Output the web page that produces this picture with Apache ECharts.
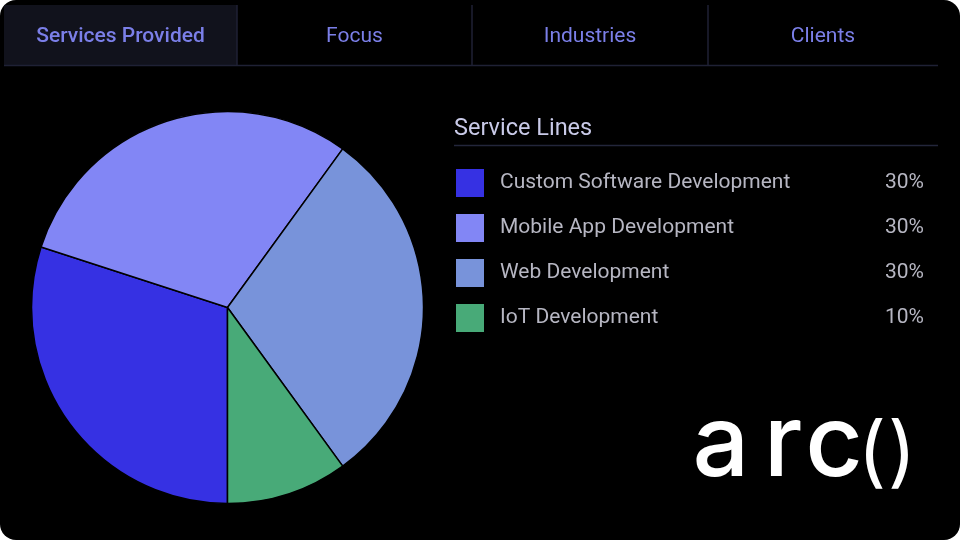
<!DOCTYPE html>
<html>
<head>
<meta charset="utf-8">
<script src="https://cdn.jsdelivr.net/npm/echarts@6/dist/echarts.min.js"></script>
<style>
	html, body { margin: 0; padding: 0; background: #fff; }
	#main { width: 960px; height: 540px; background: #000; border-radius: 16px; overflow: hidden; }
</style>
</head>
<body>
<div id="main"></div>
<script>
// 服务类别
var tabNames = ['Services Provided', 'Focus', 'Industries', 'Clients'];
var serviceNames = ['Custom Software Development', 'Mobile App Development', 'Web Development', 'IoT Development'];
var serviceValues = [30, 30, 30, 10];
var serviceColors = ['#3631e3', '#8286f5', '#7893da', '#48aa78'];

var tabEdges = [4, 237, 472, 708, 938];

var graphics = [];
graphics.push({
	type: 'rect',
	shape: { x: 4, y: 5, width: tabEdges[1] - 4, height: 60 },
	style: { fill: '#11121c' }
});
for (var i = 1; i < 4; i++) {
	graphics.push({
		type: 'line',
		shape: { x1: tabEdges[i], y1: 5, x2: tabEdges[i], y2: 65 },
		style: { stroke: '#1f2135', lineWidth: 1.5 }
	});
}
graphics.push({
	type: 'line',
	shape: { x1: 4, y1: 65.5, x2: 938, y2: 65.5 },
	style: { stroke: '#1f2135', lineWidth: 1.5 }
});
for (var j = 0; j < tabNames.length; j++) {
	graphics.push({
		type: 'text',
		x: (tabEdges[j] + tabEdges[j + 1]) / 2,
		y: 37,
		style: {
			text: tabNames[j],
			fill: '#7b7fe8',
			font: (j === 0 ? '500 ' : '400 ') + '21px Roboto',
			textAlign: 'center',
			textVerticalAlign: 'middle'
		}
	});
}
//标题下划线
graphics.push({
	type: 'line',
	shape: { x1: 454, y1: 145.5, x2: 938, y2: 145.5 },
	style: { stroke: '#23263b', lineWidth: 1.5 }
});
graphics.push({
	type: 'text',
	x: 454,
	y: 129,
	style: {
		text: 'Service Lines',
		fill: '#c9cae8',
		font: '400 23.5px Roboto',
		textVerticalAlign: 'middle'
	}
});
// logo  arc()
var logoChars = [
	{ t: 'a', x: 721, y: 446, f: '500 100px Inter' },
	{ t: 'r', x: 783, y: 446, f: '500 100px Inter' },
	{ t: 'c', x: 834, y: 446, f: '500 100px Inter' },
	{ t: '(', x: 872, y: 455, f: '400 78px Inter' },
	{ t: ')', x: 902, y: 455, f: '400 78px Inter' }
];
logoChars.forEach(function (c) {
	graphics.push({
		type: 'text',
		x: c.x,
		y: c.y,
		style: {
			text: c.t,
			fill: '#ffffff',
			font: c.f,
			textAlign: 'center',
			textVerticalAlign: 'middle'
		}
	});
});

var pieData = serviceNames.map(function (n, k) {
	return { name: n, value: serviceValues[k], itemStyle: { color: serviceColors[k] } };
});

var option = {
	backgroundColor: 'transparent',
	animation: false,
	graphic: graphics,
	legend: {
		orient: 'vertical',
		left: 454,
		top: 167,
		padding: 0,
		itemWidth: 30,
		itemHeight: 30,
		itemGap: 13,
		icon: 'rect',
		data: serviceNames,
		formatter: function (name) {
			var idx = serviceNames.indexOf(name);
			return '{g|}{n|' + name + '}{p|' + serviceValues[idx] + '%}';
		},
		textStyle: {
			color: '#b6b6c2',
			fontFamily: 'Roboto',
			fontSize: 21,
			rich: {
				g: { width: 10, lineHeight: 30 },
				n: { width: 380, lineHeight: 30, color: '#b6b6c2', fontSize: 21, fontFamily: 'Roboto' },
				p: { width: 44, lineHeight: 30, align: 'right', color: '#b6b6c2', fontSize: 21, fontFamily: 'Roboto' }
			}
		}
	},
	series: [{
		name: 'Service Lines',
		type: 'pie',
		center: [227.5, 307.5],
		radius: 196,
		startAngle: 270,
		clockwise: true,
		label: { show: false },
		labelLine: { show: false },
		itemStyle: { borderColor: '#000', borderWidth: 1.5 },
		emphasis: { disabled: true },
		data: pieData
	}]
};

var myChart = echarts.init(document.getElementById('main'));
myChart.setOption(option);
</script>
</body>
</html>
